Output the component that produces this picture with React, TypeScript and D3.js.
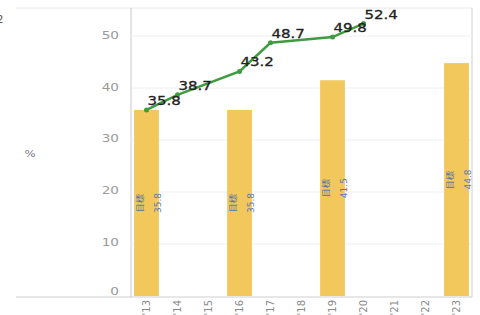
import React from "react";
import * as d3 from "d3";

// 年度（横軸）
const years = ["'13", "'14", "'15", "'16", "'17", "'18", "'19", "'20", "'21", "'22", "'23"];
// 目標（棒）
const targetYears = ["'13", "'16", "'19", "'23"];
const targetValues = [35.8, 35.8, 41.5, 44.8];
// 実績（折れ線）
const actualYears = ["'13", "'14", "'16", "'17", "'19", "'20"];
const actualValues = [35.8, 38.7, 43.2, 48.7, 49.8, 52.4];
const yTicks = [0, 10, 20, 30, 40, 50];

const W = 480;
const H = 315;
const left = 131;
const right = 472;
const top = 8;
const bottom = 296;

export default function App() {
  const x = d3.scaleBand<string>().domain(years).range([left, right]).paddingInner(0.2).paddingOuter(0.1);
  const y = d3.scaleLinear().domain([0, 55.4]).range([bottom, top]);
  const cx = (k: string) => (x(k) as number) + x.bandwidth() / 2;

  const pts = actualYears.map((k, i) => ({ k, v: actualValues[i] }));
  const line = d3
    .line<{ k: string; v: number }>()
    .x((d) => cx(d.k))
    .y((d) => y(d.v));

  const stretch = 1.3; // 元画像は横に少し引き伸ばされている

  return (
    <svg width={W} height={H} style={{ position: "absolute", left: 0, top: 0, background: "#fff" }}
      fontFamily="DejaVu Sans, sans-serif">
      {/* 枠 */}
      <line x1={16} x2={right} y1={top} y2={top} stroke="#e6e6e6" />
      <line x1={16} x2={right} y1={bottom + 1} y2={bottom + 1} stroke="#cfcfcf" />
      <line x1={left} x2={left} y1={top} y2={bottom + 1} stroke="#c8c8d0" />
      <line x1={right} x2={right} y1={top} y2={bottom + 1} stroke="#d0d0d0" />

      {/* 切れた文字 */}
      <text x={-3} y={23} fontSize={10} fill="#555">2</text>

      {/* グリッドと目盛り */}
      {yTicks.map((t) => (
        <g key={t}>
          {t > 0 && <line x1={left} x2={right} y1={y(t)} y2={y(t)} stroke="#efefef" />}
          <g transform={`translate(119,${y(t) - (t === 0 ? 4 : 1)}) scale(${stretch},1)`}>
            <text textAnchor="end" dominantBaseline="central" fontSize={10.5} fill="#9a9a9a">{t}</text>
          </g>
        </g>
      ))}

      <g transform={`translate(30,154) scale(${stretch},1)`}>
        <text textAnchor="middle" dominantBaseline="central" fontSize={9} fill="#7a7a8a">%</text>
      </g>

      {/* 目標の棒 */}
      {targetYears.map((k, i) => (
        <rect key={k} x={x(k)} y={y(targetValues[i])} width={x.bandwidth()} height={bottom - y(targetValues[i])}
          fill="#F2C75C" />
      ))}

      {/* 棒ラベル */}
      {targetYears.map((k, i) => {
        const midY = (y(targetValues[i]) + bottom) / 2;
        return (
          <g key={k}>
            <text transform={`translate(${cx(k) - 7},${midY}) rotate(-90)`} textAnchor="middle"
              dominantBaseline="central" fontSize={9} fill="#4a6fae">
              目標
            </text>
            <text transform={`translate(${cx(k) + 11},${midY}) rotate(-90)`} textAnchor="middle"
              dominantBaseline="central" fontSize={9} fill="#5b7bb0">
              {targetValues[i]}
            </text>
          </g>
        );
      })}

      {/* 実績の折れ線 */}
      <path d={line(pts) as string} fill="none" stroke="#3f9b3f" strokeWidth={2.5} />
      {pts.map((d) => (
        <circle key={d.k} cx={cx(d.k)} cy={y(d.v)} r={2.5} fill="#3f9b3f" />
      ))}
      {pts.map((d) => (
        <g key={"l" + d.k} transform={`translate(${cx(d.k) + 1},${y(d.v) - 5}) scale(1.25,1)`}>
          <text fontSize={12} fill="#222" stroke="#222" strokeWidth={0.3}>{d.v}</text>
        </g>
      ))}

      {/* 横軸ラベル */}
      {years.map((k) => (
        <text key={k} transform={`translate(${cx(k)},${bottom + 4}) rotate(-90)`} textAnchor="end"
          dominantBaseline="central" fontSize={10} fill="#8a8a8a">
          {k}
        </text>
      ))}
    </svg>
  );
}
